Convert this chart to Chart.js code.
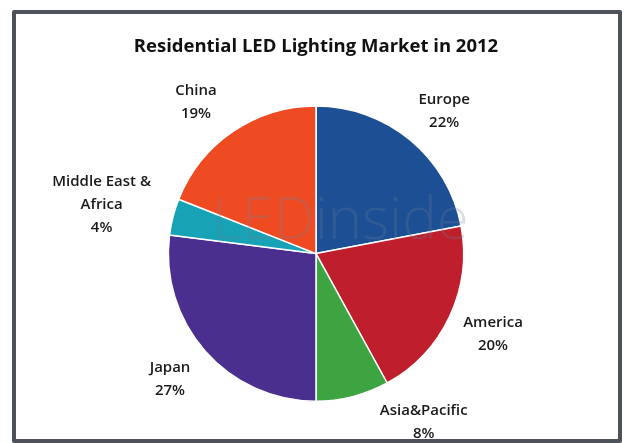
<!DOCTYPE html>
<html>
<head>
<meta charset="utf-8">
<script src="https://cdn.jsdelivr.net/npm/chart.js@4"></script>
<style>
  html, body { margin: 0; padding: 0; background: #ffffff; overflow: hidden; }
  #wrap { position: absolute; left: 0; top: 0; width: 632px; height: 443px; }
  #c { position: absolute; left: 0; top: 0; }
  #frame { position: absolute; left: 12px; top: 10px; width: 602px; height: 425px;
           border: 4px solid #4d525a; border-radius: 2px; }
</style>
</head>
<body>
<div id="wrap">
  <canvas id="c" width="632" height="443"></canvas>
  <div id="frame"></div>
</div>
<script>
const categories = ["Europe", "America", "Asia&Pacific", "Japan", "Middle East & Africa", "China"];
const labelLines = [["Europe"], ["America"], ["Asia&Pacific"], ["Japan"], ["Middle East &", "Africa"], ["China"]];
const shares = [22, 20, 8, 27, 4, 19];
const colors = ["#1c4f93", "#bf1e2d", "#3ea441", "#4a2f8e", "#17a2b5", "#ef4b23"];

// label placement: distance factor from center (in radii) and extra pixel nudge
const labelDist = [1.33, 1.31, 1.30, 1.30, 1.52, 1.35];
const labelNudge = [[3, 9], [2, -2], [60, -17], [-2, -1], [3, 7], [-8, 13]];

const labelPlugin = {
  id: 'outsideLabels',
  afterDatasetsDraw(chart) {
    const ctx = chart.ctx;
    const meta = chart.getDatasetMeta(0);
    ctx.save();
    // faint watermark
    ctx.globalAlpha = 0.25;
    ctx.font = '300 58px "Open Sans", "DejaVu Sans", sans-serif';
    ctx.fillStyle = '#6f7f9a';
    ctx.textAlign = 'left';
    ctx.textBaseline = 'middle';
    ctx.fillText('LEDinside', 212, 222);
    ctx.globalAlpha = 1;

    ctx.font = '600 15px "Open Sans", "DejaVu Sans", sans-serif';
    ctx.fillStyle = '#1a1a1a';
    ctx.textAlign = 'center';
    ctx.textBaseline = 'middle';
    meta.data.forEach((arc, i) => {
      const p = arc.getProps(['x', 'y', 'startAngle', 'endAngle', 'outerRadius'], true);
      const mid = (p.startAngle + p.endAngle) / 2;
      const r = p.outerRadius * labelDist[i];
      const cx = p.x + Math.cos(mid) * r + labelNudge[i][0];
      const cy = p.y + Math.sin(mid) * r + labelNudge[i][1];
      const lines = labelLines[i].concat([shares[i] + '%']);
      const lh = 23;
      const y0 = cy - (lines.length - 1) * lh / 2;
      lines.forEach((t, k) => ctx.fillText(t, cx, y0 + k * lh));
    });
    ctx.restore();
  }
};

new Chart(document.getElementById('c'), {
  type: 'pie',
  data: {
    labels: categories,
    datasets: [{
      data: shares,
      backgroundColor: colors,
      borderColor: '#ffffff',
      borderWidth: 1.5
    }]
  },
  options: {
    responsive: false,
    animation: false,
    layout: { padding: { top: 0, bottom: 41, left: 0, right: 0 } },
    plugins: {
      legend: { display: false },
      tooltip: { enabled: false },
      title: {
        display: true,
        text: 'Residential LED Lighting Market in 2012',
        color: '#111111',
        font: { family: '"Open Sans", "DejaVu Sans", sans-serif', size: 18.5, weight: 'bold' },
        padding: { top: 36, bottom: 47 }
      }
    }
  },
  plugins: [labelPlugin]
});
</script>
</body>
</html>
